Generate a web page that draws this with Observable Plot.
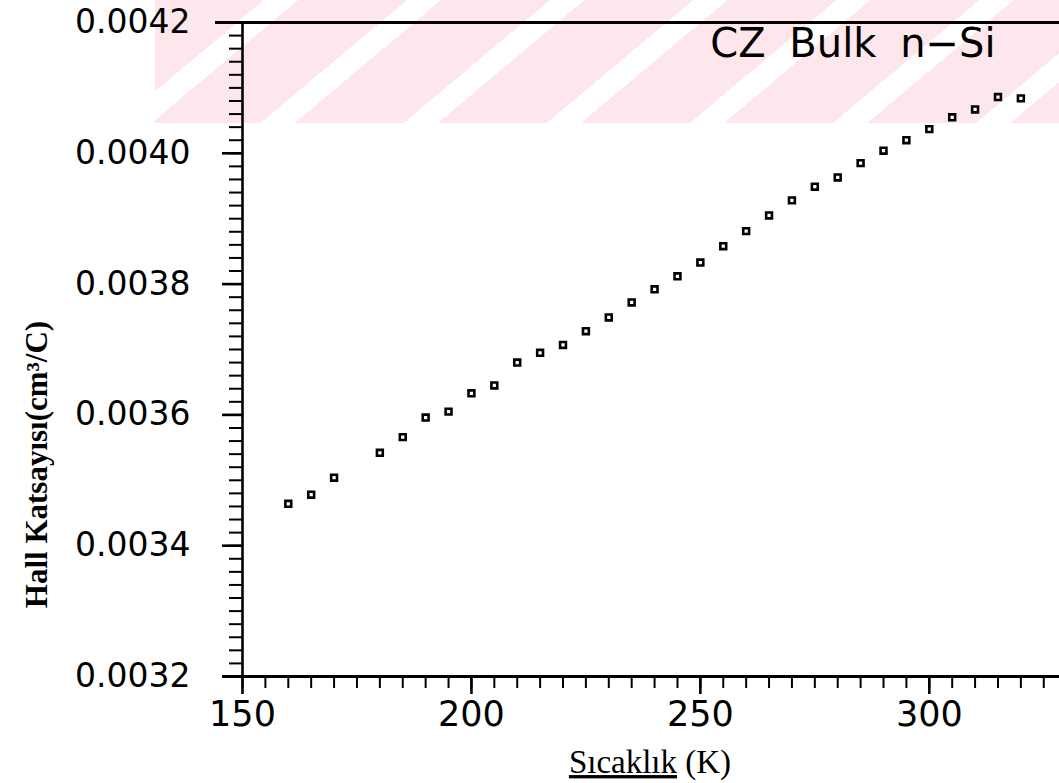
<!DOCTYPE html>
<html>
<head>
<meta charset="utf-8">
<script src="https://cdn.jsdelivr.net/npm/d3@7"></script>
<script src="https://cdn.jsdelivr.net/npm/@observablehq/plot@0.6"></script>
<style>
  html, body { margin: 0; padding: 0; background: #fff; overflow: hidden; }
  #wrap { position: relative; width: 1059px; height: 783px; }
  #mark { position: absolute; left: 155px; top: 0; width: 904px; height: 123px;
    background: repeating-linear-gradient(140deg, #fde7ec 0px, #fde7ec 70px, #ffffff 70px, #ffffff 92px); }
  #chart { position: absolute; left: 0; top: 0; }
</style>
</head>
<body>
<div id="wrap"><div id="mark"></div><div id="chart"></div></div>
<script>
// Temperature (K)
const temps = [160, 165, 170, 180, 185, 190, 195, 200, 205, 210, 215, 220, 225, 230, 235, 240,
               245, 250, 255, 260, 265, 270, 275, 280, 285, 290, 295, 300, 305, 310, 315, 320];
// Hall coefficient (cm^3/C)
const hall = [0.003464, 0.003478, 0.003504, 0.003542, 0.003566, 0.003596, 0.003605, 0.003633,
              0.003645, 0.003680, 0.003695, 0.003707, 0.003728, 0.003749, 0.003772, 0.003792,
              0.003812, 0.003833, 0.003858, 0.003881, 0.003905, 0.003928, 0.003949, 0.003963,
              0.003985, 0.004004, 0.004020, 0.004037, 0.004055, 0.004067, 0.004086, 0.004084];
const xMajorTicks = [150, 200, 250, 300];
const yMajorTicks = [0.0032, 0.0034, 0.0036, 0.0038, 0.0040, 0.0042];
const xTitle = "Sıcaklık (K)";
const yTitle = "Hall Katsayısı(cm³/C)";
const seriesLabel = "CZ Bulk n−Si";

const xMinorTicks = d3.range(150, 326, 5);
const yMinorTicks = d3.range(0, 51).map(i => +(0.0032 + i * 0.00002).toFixed(6));

const data = temps.map((t, i) => ({T: t, R: hall[i]}));

const chart = Plot.plot({
  width: 1059,
  height: 783,
  marginLeft: 242,
  marginRight: 2,
  marginTop: 22,
  marginBottom: 107,
  x: {domain: [150, 328]},
  y: {domain: [0.0032, 0.0042]},
  style: {background: "transparent", fontFamily: "DejaVu Sans", color: "black"},
  marks: [
    Plot.axisY(yMinorTicks, {anchor: "left", tickSize: 13, strokeWidth: 2, tickFormat: () => "", label: null}),
    Plot.axisY(yMajorTicks, {anchor: "left", tickSize: 20, strokeWidth: 2.6, tickPadding: 32,
      tickFormat: d3.format(".4f"), fontSize: 33, label: null}),
    Plot.axisX(xMinorTicks, {anchor: "bottom", tickSize: 12, strokeWidth: 2, tickFormat: () => "", label: null}),
    Plot.axisX(xMajorTicks, {anchor: "bottom", tickSize: 18, strokeWidth: 2.6, tickPadding: 7,
      tickFormat: d => String(d), fontSize: 35, label: null}),
    Plot.ruleY([0.0032], {stroke: "black", strokeWidth: 3, insetLeft: -20, insetRight: -4}),
    Plot.ruleY([0.0042], {stroke: "black", strokeWidth: 3, insetLeft: -27, insetRight: -4}),
    Plot.ruleX([150], {stroke: "black", strokeWidth: 2.6}),
    Plot.dot(data, {x: "T", y: "R", symbol: "square", r: 3.3, stroke: "black", fill: "white", strokeWidth: 2.6}),
    Plot.text([seriesLabel], {frameAnchor: "top-right", text: d => d, dx: -62, dy: 22, lineAnchor: "middle",
      textAnchor: "end", fontSize: 40, fontFamily: "DejaVu Sans", fill: "black"}),
    Plot.text([xTitle], {frameAnchor: "bottom", text: d => d, dy: 86, lineAnchor: "middle", textAnchor: "middle",
      fontSize: 33, fontFamily: "Liberation Serif", fill: "black"}),
    Plot.text([yTitle], {frameAnchor: "left", text: d => d, dx: -205, dy: 115, rotate: -90, lineAnchor: "middle",
      textAnchor: "middle", fontSize: 31, fontWeight: "bold", fontFamily: "Liberation Serif", fill: "black"})
  ]
});

document.getElementById("chart").appendChild(chart);

// Fine adjustments of text styling
d3.select(chart).selectAll("text").each(function() {
  const t = this.textContent;
  if (t === seriesLabel) {
    this.style.wordSpacing = "11px";
  } else if (t === xTitle) {
    const el = d3.select(this);
    el.text("");
    el.append("tspan").attr("text-decoration", "underline").text("Sıcaklık");
    el.append("tspan").text(" (K)");
  }
});
</script>
</body>
</html>
